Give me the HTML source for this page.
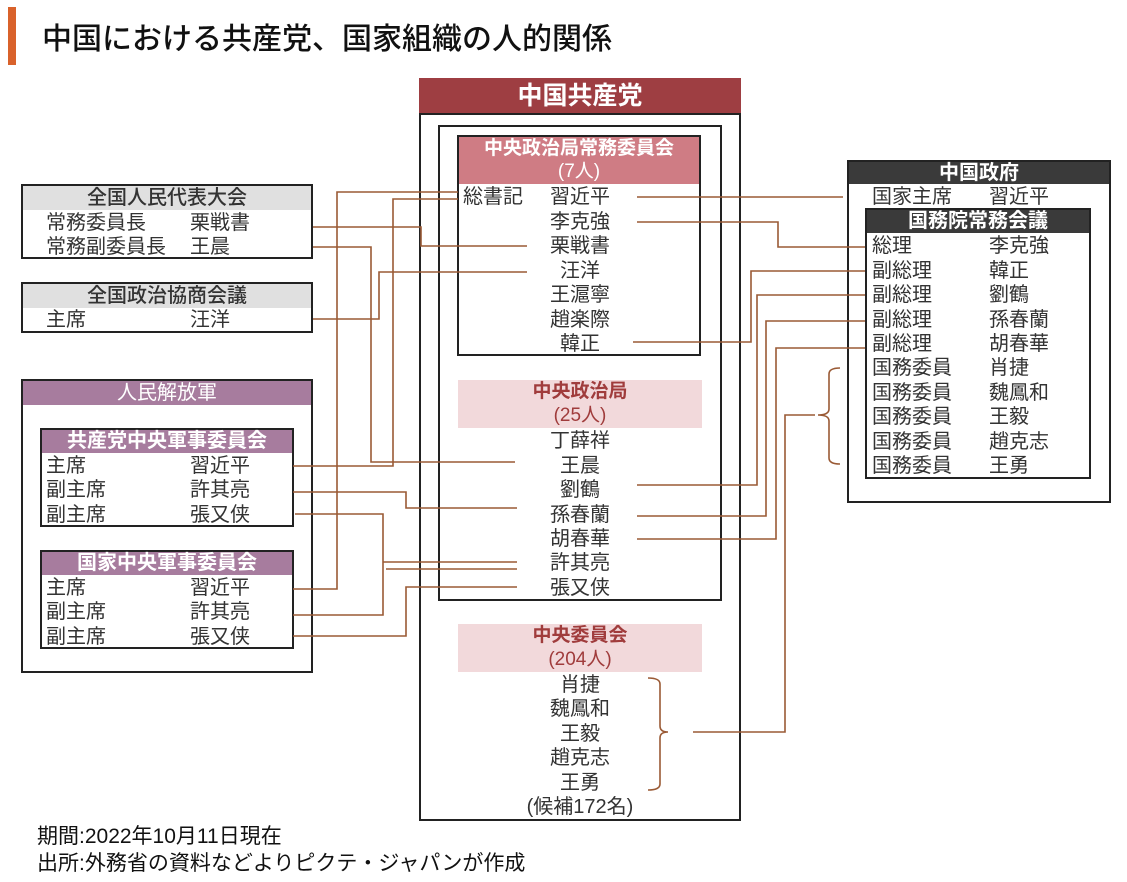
<!DOCTYPE html>
<html><head><meta charset="utf-8"><style>
*{margin:0;padding:0;box-sizing:border-box}
body{width:1127px;height:882px;background:#fff;position:relative;overflow:hidden;font-family:"Liberation Sans","Noto Sans CJK JP",sans-serif;color:#333}
.a{position:absolute}
.box{position:absolute;border:2px solid #222;background:#fff}
.t{position:absolute;height:24px;line-height:24px;font-size:20px;white-space:nowrap;color:#333}
.c{text-align:center}
</style></head><body>
<div class="a" style="left:8px;top:7px;width:8px;height:58px;background:#d9622b"></div>
<div class="a" style="left:42px;top:21px;font-size:30px;line-height:38px;color:#111;font-weight:500">中国における共産党、国家組織の人的関係</div>

<!-- Party -->
<div class="a" style="left:419px;top:78px;width:322px;height:36px;background:#9e3e42;color:#fff;font-size:25px;font-weight:bold;text-align:center;line-height:36px">中国共産党</div>
<div class="box" style="left:419px;top:113px;width:322px;height:708px"></div>
<div class="box" style="left:438px;top:125px;width:284px;height:476px"></div>
<div class="box" style="left:457px;top:135px;width:244px;height:221px"></div>
<div class="a" style="left:459px;top:137px;width:240px;height:47px;background:#cf7c84;color:#fff;text-align:center;font-size:19px;line-height:23px"><b>中央政治局常務委員会</b><br>(7人)</div>
<div class="t" style="left:463px;top:185px">総書記</div>
<div class="t c" style="left:520px;width:120px;top:185px">習近平</div>
<div class="t c" style="left:520px;width:120px;top:210px">李克強</div>
<div class="t c" style="left:520px;width:120px;top:234px">栗戦書</div>
<div class="t c" style="left:520px;width:120px;top:259px">汪洋</div>
<div class="t c" style="left:520px;width:120px;top:283px">王滬寧</div>
<div class="t c" style="left:520px;width:120px;top:308px">趙楽際</div>
<div class="t c" style="left:520px;width:120px;top:332px">韓正</div>

<div class="a" style="left:458px;top:380px;width:244px;height:48px;background:#f2d9db;color:#a03c3c;text-align:center;font-size:19px;line-height:24px"><b>中央政治局</b><br>(25人)</div>
<div class="t c" style="left:520px;width:120px;top:429px">丁薛祥</div>
<div class="t c" style="left:520px;width:120px;top:454px">王晨</div>
<div class="t c" style="left:520px;width:120px;top:478px">劉鶴</div>
<div class="t c" style="left:520px;width:120px;top:503px">孫春蘭</div>
<div class="t c" style="left:520px;width:120px;top:527px">胡春華</div>
<div class="t c" style="left:520px;width:120px;top:551px">許其亮</div>
<div class="t c" style="left:520px;width:120px;top:576px">張又侠</div>

<div class="a" style="left:458px;top:624px;width:244px;height:48px;background:#f2d9db;color:#a03c3c;text-align:center;font-size:19px;line-height:24px"><b>中央委員会</b><br>(204人)</div>
<div class="t c" style="left:520px;width:120px;top:673px">肖捷</div>
<div class="t c" style="left:520px;width:120px;top:697px">魏鳳和</div>
<div class="t c" style="left:520px;width:120px;top:722px">王毅</div>
<div class="t c" style="left:520px;width:120px;top:746px">趙克志</div>
<div class="t c" style="left:520px;width:120px;top:771px">王勇</div>
<div class="t c" style="left:490px;width:180px;top:795px">(候補172名)</div>

<!-- NPC -->
<div class="box" style="left:21px;top:184px;width:292px;height:75px"></div>
<div class="a" style="left:23px;top:186px;width:288px;height:24px;background:#e0e0e0;text-align:center;line-height:24px;font-size:20px;color:#333;font-weight:500">全国人民代表大会</div>
<div class="t" style="left:46px;top:211px">常務委員長</div><div class="t" style="left:190px;top:211px">栗戦書</div>
<div class="t" style="left:46px;top:235px">常務副委員長</div><div class="t" style="left:190px;top:235px">王晨</div>

<div class="box" style="left:21px;top:282px;width:292px;height:51px"></div>
<div class="a" style="left:23px;top:284px;width:288px;height:24px;background:#e0e0e0;text-align:center;line-height:24px;font-size:20px;color:#333;font-weight:500">全国政治協商会議</div>
<div class="t" style="left:46px;top:308px">主席</div><div class="t" style="left:190px;top:308px">汪洋</div>

<!-- PLA -->
<div class="box" style="left:21px;top:379px;width:292px;height:294px"></div>
<div class="a" style="left:23px;top:381px;width:288px;height:24px;background:#a77c9e;color:#fff;text-align:center;line-height:24px;font-size:20px">人民解放軍</div>
<div class="box" style="left:40px;top:428px;width:254px;height:99px"></div>
<div class="a" style="left:42px;top:430px;width:250px;height:23px;background:#a77c9e;color:#fff;text-align:center;line-height:23px;font-size:20px;font-weight:bold">共産党中央軍事委員会</div>
<div class="t" style="left:46px;top:454px">主席</div><div class="t" style="left:190px;top:454px">習近平</div>
<div class="t" style="left:46px;top:478px">副主席</div><div class="t" style="left:190px;top:478px">許其亮</div>
<div class="t" style="left:46px;top:503px">副主席</div><div class="t" style="left:190px;top:503px">張又侠</div>
<div class="box" style="left:40px;top:550px;width:254px;height:99px"></div>
<div class="a" style="left:42px;top:552px;width:250px;height:23px;background:#a77c9e;color:#fff;text-align:center;line-height:23px;font-size:20px;font-weight:bold">国家中央軍事委員会</div>
<div class="t" style="left:46px;top:576px">主席</div><div class="t" style="left:190px;top:576px">習近平</div>
<div class="t" style="left:46px;top:600px">副主席</div><div class="t" style="left:190px;top:600px">許其亮</div>
<div class="t" style="left:46px;top:625px">副主席</div><div class="t" style="left:190px;top:625px">張又侠</div>

<!-- Gov -->
<div class="box" style="left:847px;top:160px;width:264px;height:343px"></div>
<div class="a" style="left:849px;top:162px;width:260px;height:22px;background:#3a3a3a;color:#fff;text-align:center;line-height:22px;font-size:20px;font-weight:bold">中国政府</div>
<div class="t" style="left:872px;top:185px">国家主席</div><div class="t" style="left:989px;top:185px">習近平</div>
<div class="box" style="left:865px;top:208px;width:226px;height:271px"></div>
<div class="a" style="left:867px;top:210px;width:222px;height:23px;background:#3a3a3a;color:#fff;text-align:center;line-height:23px;font-size:20px;font-weight:bold">国務院常務会議</div>
<div class="t" style="left:872px;top:234px">総理</div><div class="t" style="left:989px;top:234px">李克強</div>
<div class="t" style="left:872px;top:259px">副総理</div><div class="t" style="left:989px;top:259px">韓正</div>
<div class="t" style="left:872px;top:283px">副総理</div><div class="t" style="left:989px;top:283px">劉鶴</div>
<div class="t" style="left:872px;top:308px">副総理</div><div class="t" style="left:989px;top:308px">孫春蘭</div>
<div class="t" style="left:872px;top:332px">副総理</div><div class="t" style="left:989px;top:332px">胡春華</div>
<div class="t" style="left:872px;top:356px">国務委員</div><div class="t" style="left:989px;top:356px">肖捷</div>
<div class="t" style="left:872px;top:381px">国務委員</div><div class="t" style="left:989px;top:381px">魏鳳和</div>
<div class="t" style="left:872px;top:405px">国務委員</div><div class="t" style="left:989px;top:405px">王毅</div>
<div class="t" style="left:872px;top:430px">国務委員</div><div class="t" style="left:989px;top:430px">趙克志</div>
<div class="t" style="left:872px;top:454px">国務委員</div><div class="t" style="left:989px;top:454px">王勇</div>

<svg class="a" style="left:0;top:0" width="1127" height="882" fill="none" stroke="#9a5a35" stroke-width="1.6">
<polyline points="458,192 337,192 337,589 293,589"/>
<polyline points="458,199 393,199 393,466 293,466"/>
<polyline points="313,247 371,247 371,462 515,462"/>
<polyline points="313,227 421,227 421,246 527,246"/>
<polyline points="313,319 379,319 379,272 527,272"/>
<polyline points="637,197 843,197"/>
<polyline points="637,222 778,222 778,247 865,247"/>
<polyline points="633,342 751,342 751,271 865,271"/>
<polyline points="637,485 757,485 757,295 865,295"/>
<polyline points="637,516 766,516 766,321 865,321"/>
<polyline points="637,539 776,539 776,348 865,348"/>
<polyline points="693,732 785,732 785,415 815,415"/>
<path d="M648,678 Q660,678 660,684 L660,726 Q660,732 668,732 Q660,732 660,738 L660,784 Q660,790 648,790"/>
<path d="M840,368 Q829,368 829,374 L829,409 Q829,415 818,415 Q829,415 829,421 L829,458 Q829,464 840,464"/>
<polyline points="293,492 406,492 406,508 517,508"/>
<polyline points="295,514 383,514 383,615 293,615"/>
<polyline points="383,562 517,562"/>
<polyline points="386,569 517,569"/>
<polyline points="293,636 406,636 406,587 517,587"/>
</svg>

<div class="a" style="left:37px;top:824px;font-size:21px;line-height:26px;color:#111">期間:2022年10月11日現在</div>
<div class="a" style="left:37px;top:851px;font-size:21px;line-height:26px;color:#111">出所:外務省の資料などよりピクテ・ジャパンが作成</div>
</body></html>
